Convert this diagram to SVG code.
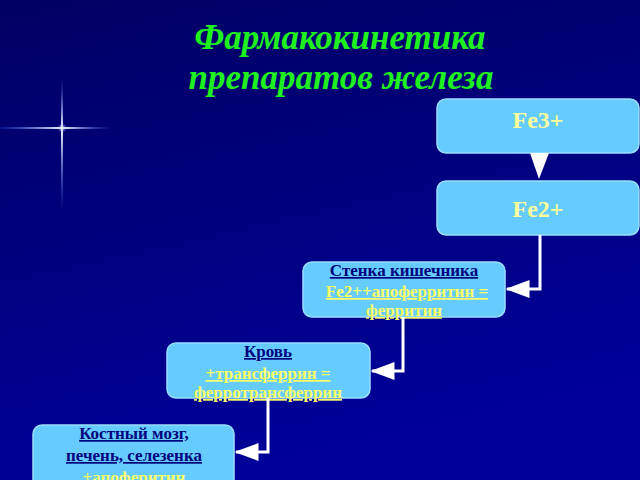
<svg xmlns="http://www.w3.org/2000/svg" width="640" height="480" viewBox="0 0 640 480">
<defs>
<linearGradient id="bg" x1="0" y1="0" x2="0.3" y2="1">
<stop offset="0" stop-color="#000062"/>
<stop offset="1" stop-color="#00009a"/>
</linearGradient>
<linearGradient id="sh" x1="0" y1="0" x2="1" y2="0">
<stop offset="0" stop-color="#3366ff" stop-opacity="0.2"/>
<stop offset="0.56" stop-color="#ffffff" stop-opacity="1"/>
<stop offset="1" stop-color="#3366ff" stop-opacity="0"/>
</linearGradient>
<linearGradient id="sv" x1="0" y1="0" x2="0" y2="1">
<stop offset="0" stop-color="#3366ff" stop-opacity="0"/>
<stop offset="0.37" stop-color="#ffffff" stop-opacity="1"/>
<stop offset="1" stop-color="#3366ff" stop-opacity="0"/>
</linearGradient>
<radialGradient id="glow">
<stop offset="0" stop-color="#ffffff" stop-opacity="0.9"/>
<stop offset="1" stop-color="#6699ff" stop-opacity="0"/>
</radialGradient>
<marker id="ah" markerWidth="8" markerHeight="6" refX="7.5" refY="3" orient="auto" markerUnits="strokeWidth">
<path d="M0,0 L8,3 L0,6 Z" fill="#ffffff"/>
</marker>
</defs>
<style>
.box{fill:#66ccff;stroke:#99ddff;stroke-width:1.5}
.big{font-family:"Liberation Serif",serif;font-weight:bold;font-size:24px;fill:#ffff99;text-anchor:middle}
.nv{font-family:"Liberation Serif",serif;font-weight:bold;font-size:17px;fill:#000080;text-anchor:middle;text-decoration:underline}
.yl{font-family:"Liberation Serif",serif;font-weight:bold;font-size:17px;fill:#ffff66;text-anchor:middle;text-decoration:underline}
.title{font-family:"Liberation Serif",serif;font-weight:bold;font-style:italic;font-size:35px;fill:#1ff01f;text-anchor:middle}
.con{fill:none;stroke:#ffffff;stroke-width:3;marker-end:url(#ah)}
</style>
<rect width="640" height="480" fill="url(#bg)"/>
<g id="star">
<rect x="0" y="127" width="112" height="2" fill="url(#sh)"/>
<rect x="61" y="78" width="2" height="135" fill="url(#sv)"/>
<circle cx="62" cy="128" r="5" fill="url(#glow)"/>
</g>
<g id="title">
<text class="title" x="340" y="49">Фармакокинетика</text>
<text class="title" x="341" y="89">препаратов железа</text>
</g>
<g id="fe3">
<rect class="box" x="437" y="99" width="202" height="54" rx="9"/>
<text class="big" x="538" y="128">Fe3+</text>
</g>
<g id="fe2">
<rect class="box" x="437" y="181" width="202" height="54" rx="9"/>
<text class="big" x="538" y="217">Fe2+</text>
</g>
<g id="wall">
<rect class="box" x="303" y="262" width="202" height="55" rx="9"/>
<text class="nv" x="404" y="276">Стенка кишечника</text>
<text class="yl" x="407" y="297">Fe2++апоферритин =</text>
<text class="yl" x="404" y="316">ферритин</text>
</g>
<g id="blood">
<rect class="box" x="167" y="343" width="203" height="55" rx="9"/>
<text class="nv" x="268" y="357">Кровь</text>
<text class="yl" x="268" y="379">+трансферрин =</text>
<text class="yl" x="268" y="398">ферротрансферрин</text>
</g>
<g id="marrow">
<rect class="box" x="33" y="425" width="201" height="70" rx="9"/>
<text class="nv" x="134" y="439">Костный мозг,</text>
<text class="nv" x="134" y="461">печень, селезенка</text>
<text class="yl" x="134" y="483">+апоферитин</text>
</g>
<g id="connectors">
<path d="M530,153 L549,153 L539,179 Z" fill="#ffffff"/>
<path class="con" d="M540,235 V289 H507"/>
<path class="con" d="M403,317 V371 H372"/>
<path class="con" d="M268,398 V452 H236"/>
</g>
</svg>
